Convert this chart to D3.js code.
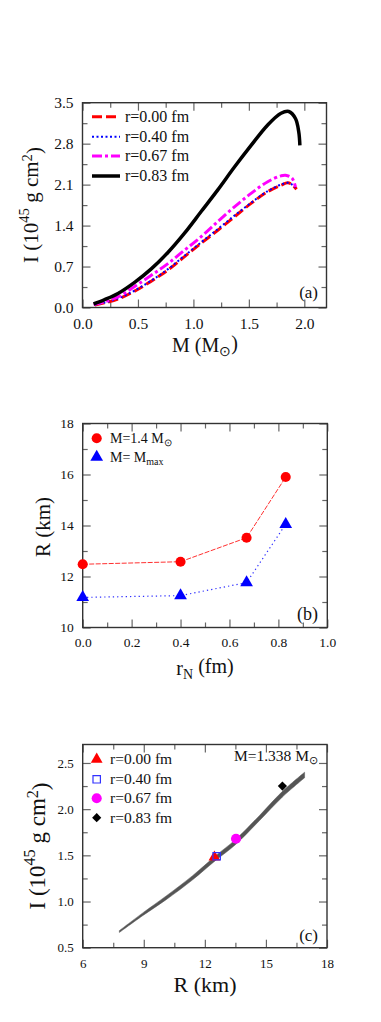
<!DOCTYPE html>
<html>
<head>
<meta charset="utf-8">
<script src="https://cdn.jsdelivr.net/npm/d3@7"></script>
<style>
body { margin: 0; background: #fff; }
svg { display: block; }
svg text { font-family: "Liberation Serif", "Times New Roman", serif; }
</style>
</head>
<body>
<svg id="chart" width="381" height="1022"></svg>
<script>
// ---- panel (a): moment of inertia vs mass ----
const massR000 = [0.11, 0.2, 0.32, 0.47, 0.62, 0.77, 0.92, 1.07, 1.22, 1.37, 1.52, 1.67, 1.79, 1.85, 1.89, 1.93];
const inerR000 = [0.04, 0.08, 0.145, 0.28, 0.45, 0.64, 0.87, 1.10, 1.32, 1.55, 1.78, 1.98, 2.09, 2.13, 2.10, 2.02];
const massR040 = [0.11, 0.2, 0.32, 0.47, 0.62, 0.77, 0.92, 1.07, 1.22, 1.37, 1.52, 1.67, 1.79, 1.85, 1.89, 1.92];
const inerR040 = [0.045, 0.085, 0.155, 0.29, 0.46, 0.655, 0.885, 1.115, 1.34, 1.57, 1.79, 1.99, 2.10, 2.13, 2.10, 2.05];
const massR067 = [0.10, 0.2, 0.32, 0.47, 0.62, 0.77, 0.92, 1.07, 1.22, 1.37, 1.52, 1.67, 1.79, 1.83, 1.89, 1.92];
const inerR067 = [0.05, 0.10, 0.18, 0.36, 0.55, 0.75, 0.98, 1.21, 1.47, 1.72, 1.95, 2.15, 2.25, 2.26, 2.21, 2.06];
const massR083 = [0.10, 0.2, 0.32, 0.47, 0.62, 0.77, 0.92, 1.07, 1.22, 1.37, 1.52, 1.67, 1.79, 1.86, 1.92, 1.95, 1.96];
const inerR083 = [0.06, 0.135, 0.24, 0.43, 0.66, 0.94, 1.27, 1.64, 2.01, 2.40, 2.77, 3.12, 3.32, 3.35, 3.23, 3.00, 2.77];
const labelsA = ["r=0.00 fm", "r=0.40 fm", "r=0.67 fm", "r=0.83 fm"];

const xMajorA = [0, 0.5, 1.0, 1.5, 2.0];
const xMinorA = [0.25, 0.75, 1.25, 1.75];
const yMajorA = [0, 0.7, 1.4, 2.1, 2.8, 3.5];
const yMinorA = [0.35, 1.05, 1.75, 2.45, 3.15];

// ---- panel (b): radius vs r_N ----
const rN = [0, 0.4, 0.67, 0.83];
const radius14 = [12.48, 12.58, 13.52, 15.9];
const radiusMax = [11.18, 11.25, 11.76, 14.05];

const xMajorB = [0, 0.2, 0.4, 0.6, 0.8, 1.0];
const xMinorB = [0.1, 0.3, 0.5, 0.7, 0.9];
const yMajorB = [10, 12, 14, 16, 18];
const yMinorB = [11, 13, 15, 17];

// ---- panel (c): I vs R at M=1.338 ----
const bandR = [7.8, 9.0, 10.1, 11.4, 12.5, 13.5, 14.7, 15.8, 16.9];
const bandUpper = [0.685, 0.885, 1.06, 1.28, 1.49, 1.67, 1.935, 2.19, 2.40];
const bandLower = [0.665, 0.855, 1.02, 1.235, 1.44, 1.615, 1.88, 2.13, 2.34];
const pointR = [12.47, 12.58, 13.53, 15.81];
const pointI = [1.48, 1.49, 1.68, 2.25];
const labelsC = ["r=0.00 fm", "r=0.40 fm", "r=0.67 fm", "r=0.83 fm"];

const xMajorC = [6, 9, 12, 15, 18];
const xMinorC = [7.5, 10.5, 13.5, 16.5];
const yMajorC = [0.5, 1.0, 1.5, 2.0, 2.5];
const yMinorC = [0.75, 1.25, 1.75, 2.25];

const svg = d3.select("#chart");
const serif = "'Liberation Serif', 'Times New Roman', serif";

// draws the box with inward ticks on all four sides, labels only bottom/left
function frame(x, y, o) {
    const [x0, x1] = x.range();
    const [y0, y1] = y.range();
    const none = () => "";

    function add(axis, tx, ty, vals, size, fmt, pad, fs) {
        const g = svg.append("g")
            .attr("transform", `translate(${tx},${ty})`)
            .call(axis.tickValues(vals).tickSize(-size).tickPadding(pad).tickFormat(fmt));
        g.select(".domain").remove();
        g.selectAll(".tick line").attr("stroke", "#666").attr("stroke-width", 1.2);
        g.selectAll(".tick text")
            .attr("fill", "#111")
            .style("font-family", serif)
            .style("font-size", fs + "px");
    }

    add(d3.axisBottom(x), 0, y0, o.xMajor, 8, o.xFmt, o.padX, o.fs);
    add(d3.axisBottom(x), 0, y0, o.xMinor, 5, none, 0, o.fs);
    add(d3.axisTop(x), 0, y1, o.xMajor, 8, none, 0, o.fs);
    add(d3.axisTop(x), 0, y1, o.xMinor, 5, none, 0, o.fs);
    add(d3.axisLeft(y), x0, 0, o.yMajor, 8, o.yFmt, o.padY, o.fs);
    add(d3.axisLeft(y), x0, 0, o.yMinor, 5, none, 0, o.fs);
    add(d3.axisRight(y), x1, 0, o.yMajor, 8, none, 0, o.fs);
    add(d3.axisRight(y), x1, 0, o.yMinor, 5, none, 0, o.fs);

    svg.append("rect")
        .attr("x", x0).attr("y", y1)
        .attr("width", x1 - x0).attr("height", y0 - y1)
        .attr("fill", "none").attr("stroke", "#333").attr("stroke-width", 1.4);
}

// rotated "I (10^45 g cm^2)" title
function inertiaTitle(cx, cy, fs) {
    const t = svg.append("text")
        .attr("transform", `translate(${cx},${cy}) rotate(-90)`)
        .attr("text-anchor", "middle")
        .attr("font-size", fs)
        .attr("fill", "#111");
    t.append("tspan").text("I (10");
    t.append("tspan").attr("dy", "-0.6em").attr("font-size", fs * 0.7).text("45");
    t.append("tspan").attr("dy", "0.42em").text(" g cm");
    t.append("tspan").attr("dy", "-0.42em").attr("font-size", fs * 0.7).text("2");
    t.append("tspan").attr("dy", "0.42em").text(")");
}

// ================= panel (a) =================
const xA = d3.scaleLinear().domain([0, 2.2]).range([82.5, 326.5]);
const yA = d3.scaleLinear().domain([0, 3.5]).range([307.5, 102.7]);

frame(xA, yA, {
    xMajor: xMajorA, xMinor: xMinorA, yMajor: yMajorA, yMinor: yMinorA,
    xFmt: d3.format(".1f"), yFmt: d3.format(".1f"), padX: 10, padY: 9, fs: 15.5
});

const stylesA = [
    { m: massR000, i: inerR000, color: "#ff0000", width: 3, dash: "10,4" },
    { m: massR040, i: inerR040, color: "#0000ff", width: 2, dash: "2,2.5" },
    { m: massR067, i: inerR067, color: "#ff00ff", width: 3, dash: "10,3,3,3" },
    { m: massR083, i: inerR083, color: "#000000", width: 3.5, dash: null }
];

const lineA = d3.line()
    .x(d => xA(d[0]))
    .y(d => yA(d[1]))
    .curve(d3.curveCatmullRom.alpha(0.5));

stylesA.forEach(s => {
    svg.append("path")
        .datum(s.m.map((m, k) => [m, s.i[k]]))
        .attr("d", lineA)
        .attr("fill", "none")
        .attr("stroke", s.color)
        .attr("stroke-width", s.width)
        .attr("stroke-dasharray", s.dash);
});

// legend (a)
stylesA.forEach((s, k) => {
    const ly = [116.7, 136.7, 156, 176][k];
    svg.append("line")
        .attr("x1", 92).attr("x2", 120).attr("y1", ly).attr("y2", ly)
        .attr("stroke", s.color).attr("stroke-width", s.width)
        .attr("stroke-dasharray", s.dash);
    svg.append("text")
        .attr("x", 125).attr("y", ly + 5)
        .attr("font-size", 16).attr("fill", "#111")
        .text(labelsA[k]);
});

svg.append("text").attr("x", 318).attr("y", 298).attr("text-anchor", "end")
    .attr("font-size", 17).attr("fill", "#111").text("(a)");

const mTitle = svg.append("text").attr("x", 205).attr("y", 352)
    .attr("text-anchor", "middle").attr("font-size", 20).attr("fill", "#111");
mTitle.append("tspan").text("M (M");
mTitle.append("tspan").attr("dy", "0.3em").attr("font-size", 14).text("\u2299");
mTitle.append("tspan").attr("dy", "-0.3em").text(")");

inertiaTitle(38, 205, 21);

// ================= panel (b) =================
const xB = d3.scaleLinear().domain([0, 1]).range([82.7, 327.3]);
const yB = d3.scaleLinear().domain([10, 18]).range([627.5, 423.5]);

frame(xB, yB, {
    xMajor: xMajorB, xMinor: xMinorB, yMajor: yMajorB, yMinor: yMinorB,
    xFmt: d3.format(".1f"), yFmt: d3.format("d"), padX: 10, padY: 9, fs: 13.5
});

const lineB = d3.line().x(d => xB(d[0])).y(d => yB(d[1]));

svg.append("path")
    .datum(rN.map((r, k) => [r, radius14[k]]))
    .attr("d", lineB).attr("fill", "none")
    .attr("stroke", "#ff3030").attr("stroke-width", 1).attr("stroke-dasharray", "5,1.5");

svg.append("path")
    .datum(rN.map((r, k) => [r, radiusMax[k]]))
    .attr("d", lineB).attr("fill", "none")
    .attr("stroke", "#3030ff").attr("stroke-width", 1.2).attr("stroke-dasharray", "1.3,3");

const circle = d3.symbol().type(d3.symbolCircle).size(80);
const tri = d3.symbol().type(d3.symbolTriangle).size(70);

svg.selectAll(".pt14").data(rN).enter().append("path")
    .attr("transform", (d, k) => `translate(${xB(d)},${yB(radius14[k])})`)
    .attr("d", circle).attr("fill", "#ff0000");

svg.selectAll(".ptmax").data(rN).enter().append("path")
    .attr("transform", (d, k) => `translate(${xB(d)},${yB(radiusMax[k])})`)
    .attr("d", tri).attr("fill", "#0000ff");

// legend (b)
svg.append("path").attr("transform", "translate(96.7,438.3)").attr("d", circle).attr("fill", "#ff0000");
svg.append("path").attr("transform", "translate(96.7,457)").attr("d", tri).attr("fill", "#0000ff");

const legB1 = svg.append("text").attr("x", 110).attr("y", 443).attr("font-size", 14).attr("fill", "#111");
legB1.append("tspan").text("M=1.4 M");
legB1.append("tspan").attr("dy", "0.3em").attr("font-size", 10).text("\u2299");

const legB2 = svg.append("text").attr("x", 110).attr("y", 462).attr("font-size", 14).attr("fill", "#111");
legB2.append("tspan").text("M= M");
legB2.append("tspan").attr("dy", "0.3em").attr("font-size", 10).text("max");

svg.append("text").attr("x", 318).attr("y", 620).attr("text-anchor", "end")
    .attr("font-size", 18).attr("fill", "#111").text("(b)");

const rTitle = svg.append("text").attr("x", 205).attr("y", 675)
    .attr("text-anchor", "middle").attr("font-size", 20).attr("fill", "#111");
rTitle.append("tspan").text("r");
rTitle.append("tspan").attr("dy", "0.3em").attr("font-size", 14).text("N");
rTitle.append("tspan").attr("dy", "-0.3em").text(" (fm)");

svg.append("text")
    .attr("transform", "translate(50,527) rotate(-90)")
    .attr("text-anchor", "middle").attr("font-size", 21).attr("fill", "#111")
    .text("R (km)");

// ================= panel (c) =================
const xC = d3.scaleLinear().domain([6, 18]).range([82.7, 327]);
const yC = d3.scaleLinear().domain([0.5, 2.7]).range([947.7, 744.5]);

frame(xC, yC, {
    xMajor: xMajorC, xMinor: xMinorC, yMajor: yMajorC, yMinor: yMinorC,
    xFmt: d3.format("d"), yFmt: d3.format(".1f"), padX: 11, padY: 9, fs: 13
});

const band = d3.area()
    .x(d => xC(d[0]))
    .y0(d => yC(d[1]))
    .y1(d => yC(d[2]))
    .curve(d3.curveCatmullRom.alpha(0.5));

svg.append("path")
    .datum(bandR.map((r, k) => [r, bandLower[k], bandUpper[k]]))
    .attr("d", band)
    .attr("fill", "#555").attr("stroke", "#555").attr("stroke-width", 0.5);

// diamond = square turned 45 degrees
const markersC = [
    { shape: d3.symbolTriangle, size: 60, fill: "#ff0000", stroke: "none", rot: 0 },
    { shape: d3.symbolSquare, size: 55, fill: "none", stroke: "#3333ff", rot: 0 },
    { shape: d3.symbolCircle, size: 80, fill: "#ff00ff", stroke: "none", rot: 0 },
    { shape: d3.symbolSquare, size: 42, fill: "#000000", stroke: "none", rot: 45 }
];

markersC.forEach((m, k) => {
    const sym = d3.symbol().type(m.shape).size(m.size);
    svg.append("path")
        .attr("transform", `translate(${xC(pointR[k])},${yC(pointI[k])}) rotate(${m.rot})`)
        .attr("d", sym).attr("fill", m.fill).attr("stroke", m.stroke).attr("stroke-width", 1.2);
    const ly = [759.3, 779.3, 798.3, 817.7][k];
    svg.append("path")
        .attr("transform", `translate(96.7,${ly}) rotate(${m.rot})`)
        .attr("d", sym).attr("fill", m.fill).attr("stroke", m.stroke).attr("stroke-width", 1.2);
    svg.append("text")
        .attr("x", 110).attr("y", ly + 5)
        .attr("font-size", 15.5).attr("fill", "#111")
        .text(labelsC[k]);
});

const mLabel = svg.append("text").attr("x", 318).attr("y", 761)
    .attr("text-anchor", "end").attr("font-size", 15.5).attr("fill", "#111");
mLabel.append("tspan").text("M=1.338 M");
mLabel.append("tspan").attr("dy", "0.3em").attr("font-size", 11).text("\u2299");

svg.append("text").attr("x", 318).attr("y", 941).attr("text-anchor", "end")
    .attr("font-size", 17).attr("fill", "#111").text("(c)");

svg.append("text").attr("x", 205).attr("y", 991.5)
    .attr("text-anchor", "middle").attr("font-size", 22).attr("fill", "#111")
    .text("R (km)");

inertiaTitle(45, 846, 23);
</script>
</body>
</html>
